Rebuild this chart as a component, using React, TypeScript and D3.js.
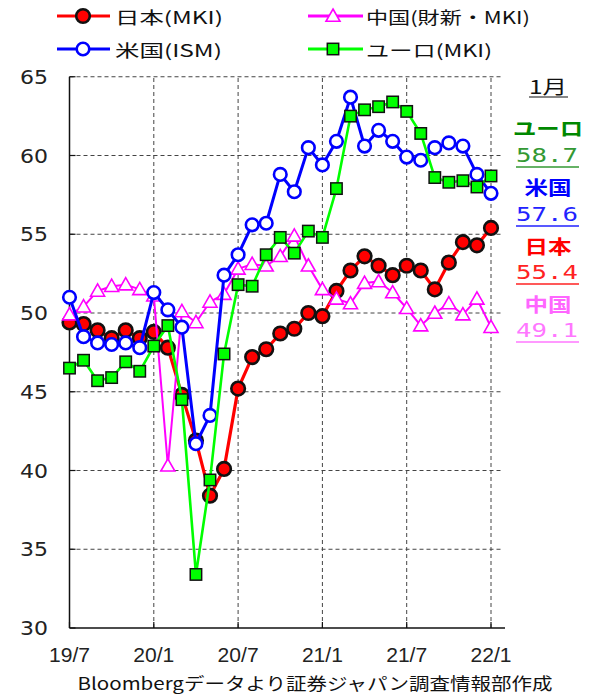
import React from "react";
import * as d3 from "d3";

const months = ["19/7","19/8","19/9","19/10","19/11","19/12","20/1","20/2","20/3","20/4","20/5","20/6","20/7","20/8","20/9","20/10","20/11","20/12","21/1","21/2","21/3","21/4","21/5","21/6","21/7","21/8","21/9","21/10","21/11","21/12","22/1"];
const japan = [49.4,49.3,48.9,48.4,48.9,48.4,48.8,47.8,44.8,41.9,38.4,40.1,45.2,47.2,47.7,48.7,49.0,50.0,49.8,51.4,52.7,53.6,53.0,52.4,53.0,52.7,51.5,53.2,54.5,54.3,55.4];
const china = [49.9,50.4,51.4,51.7,51.8,51.5,51.1,40.3,50.1,49.4,50.7,51.2,52.8,53.1,53.0,53.6,54.9,53.0,51.5,50.9,50.6,51.9,52.0,51.3,50.3,49.2,50.0,50.6,49.9,50.9,49.1];
const usa = [51.0,48.5,48.1,48.0,48.1,47.8,51.3,50.2,49.1,41.7,43.5,52.4,53.7,55.6,55.7,58.8,57.7,60.5,59.4,60.9,63.7,60.6,61.6,60.9,59.9,59.7,60.5,60.8,60.6,58.8,57.6];
const euro = [46.5,47.0,45.7,45.9,46.9,46.3,47.9,49.2,44.5,33.4,39.4,47.4,51.8,51.7,53.7,54.8,53.8,55.2,54.8,57.9,62.5,62.9,63.1,63.4,62.8,61.4,58.6,58.3,58.4,58.0,58.7];
const xTickLabels = ["19/7","20/1","20/7","21/1","21/7","22/1"];
const yTicks = [30,35,40,45,50,55,60,65];
const legendNames = ["日本(MKI)","中国(財新・MKI)","米国(ISM)","ユーロ(MKI)"];
const sideNames = ["ユーロ","米国","日本","中国"];
const sideValues = ["58.7","57.6","55.4","49.1"];
const caption = "Bloombergデータより証券ジャパン調査情報部作成";

const W = 598, H = 695;
const x = d3.scaleLinear().domain([0, 30]).range([69.5, 491]);
const y = d3.scaleLinear().domain([30, 65]).range([628, 76.75]);
const line = d3.line<number>().x((_, i) => x(i)).y(d => y(d));

const CJK = "'Noto Sans CJK JP', 'Noto Sans', sans-serif";

function Marker({ kind, cx, cy }: { kind: string; cx: number; cy: number }) {
  if (kind === "jp") return <circle cx={cx} cy={cy} r={6.8} fill="#ff0000" stroke="#111" strokeWidth={2.6} />;
  if (kind === "us") return <circle cx={cx} cy={cy} r={6.3} fill="#fff" stroke="#0000ff" strokeWidth={2.6} />;
  if (kind === "cn") {
    const s = 7;
    const p = `M${cx},${cy - s}L${cx + s * 1.0},${cy + s * 0.75}L${cx - s * 1.0},${cy + s * 0.75}Z`;
    return <path d={p} fill="#fff" stroke="#ff00ff" strokeWidth={1.6} />;
  }
  return <rect x={cx - 5.7} y={cy - 5.7} width={11.4} height={11.4} fill="#00ff00" stroke="#111" strokeWidth={1.5} />;
}

const series = [
  { key: "jp", data: japan, color: "#ff0000", width: 3.2 },
  { key: "cn", data: china, color: "#ff00ff", width: 2 },
  { key: "us", data: usa, color: "#0000ff", width: 3 },
  { key: "eu", data: euro, color: "#00ff00", width: 2.6 },
];

export default function App() {
  const xTickIdx = xTickLabels.map(l => months.indexOf(l));
  const gridRight = 503;
  const legend = [
    { kind: "jp", color: "#ff0000", lx: 57, rx: 110, mx: 83, ty: 16, tx: 115, tl: 108, name: legendNames[0] },
    { kind: "cn", color: "#ff00ff", lx: 308, rx: 363, mx: 333, ty: 16, tx: 366, tl: 164, name: legendNames[1] },
    { kind: "us", color: "#0000ff", lx: 57, rx: 110, mx: 83, ty: 49, tx: 115, tl: 107, name: legendNames[2] },
    { kind: "eu", color: "#00ff00", lx: 308, rx: 363, mx: 333, ty: 49, tx: 366, tl: 126, name: legendNames[3] },
  ];
  const side = [
    { nc: "#008800", vc: "#339933", ny: 127, vy: 155 },
    { nc: "#0000ff", vc: "#2222ff", ny: 186, vy: 214 },
    { nc: "#ff0000", vc: "#ff2222", ny: 245, vy: 272 },
    { nc: "#ff66ff", vc: "#ff77ff", ny: 303, vy: 330 },
  ];
  return (
    <svg width={W} height={H} style={{ position: "absolute", left: 0, top: 0, background: "#fff" }}>
      <rect width={W} height={H} fill="#fff" />
      {/* grid */}
      {yTicks.filter(t => t > 30).map(t => (
        <line key={"h" + t} x1={x(0)} x2={gridRight} y1={y(t)} y2={y(t)} stroke="#444" strokeWidth={1} strokeDasharray="4,3" />
      ))}
      {xTickIdx.filter(i => i > 0).map(i => (
        <line key={"v" + i} x1={x(i)} x2={x(i)} y1={y(30)} y2={y(65)} stroke="#444" strokeWidth={1} strokeDasharray="4,3" />
      ))}
      {/* axes */}
      <line x1={x(0)} x2={x(0)} y1={y(30)} y2={y(65)} stroke="#111" strokeWidth={1.5} />
      <line x1={x(0)} x2={505} y1={y(30)} y2={y(30)} stroke="#111" strokeWidth={1.5} />
      {yTicks.map(t => (
        <g key={"yt" + t}>
          <line x1={x(0)} x2={x(0) + 6} y1={y(t)} y2={y(t)} stroke="#111" strokeWidth={1.2} />
          <text x={48} y={y(t)} textAnchor="end" dominantBaseline="central" fontFamily="'DejaVu Sans', sans-serif" fontSize={20} fill="#222" textLength={28} lengthAdjust="spacingAndGlyphs">{t}</text>
        </g>
      ))}
      {xTickIdx.map((i, k) => (
        <g key={"xt" + i}>
          <line x1={x(i)} x2={x(i)} y1={y(30)} y2={y(30) - 6} stroke="#111" strokeWidth={1.2} />
          <text x={x(i)} y={654} textAnchor="middle" dominantBaseline="central" fontFamily="'Liberation Sans', sans-serif" fontSize={21} fill="#222" textLength={41} lengthAdjust="spacingAndGlyphs">{xTickLabels[k]}</text>
        </g>
      ))}
      {/* series */}
      {series.map(s => (
        <g key={s.key}>
          <path d={line(s.data) || ""} fill="none" stroke={s.color} strokeWidth={s.width} strokeLinejoin="round" />
          {s.data.map((v, i) => <Marker key={i} kind={s.key} cx={x(i)} cy={y(v)} />)}
        </g>
      ))}
      {/* legend */}
      {legend.map(l => (
        <g key={l.kind}>
          <line x1={l.lx} x2={l.rx} y1={l.ty} y2={l.ty} stroke={l.color} strokeWidth={3} />
          <Marker kind={l.kind} cx={l.mx} cy={l.ty} />
          <text x={l.tx} y={l.ty} dominantBaseline="central" fontFamily={CJK} fontSize={17} fill="#111" textLength={l.tl} lengthAdjust="spacingAndGlyphs">{l.name}</text>
        </g>
      ))}
      {/* side labels */}
      <text x={548} y={85} textAnchor="middle" dominantBaseline="central" fontFamily={CJK} fontSize={19} fill="#111" textLength={38} lengthAdjust="spacingAndGlyphs">1月</text>
      <line x1={529} x2={568} y1={97} y2={97} stroke="#111" strokeWidth={1.2} />
      {side.map((s, k) => (
        <g key={"s" + k}>
          <text x={548} y={s.ny} textAnchor="middle" dominantBaseline="central" fontFamily={CJK} fontWeight="bold" fontSize={19} fill={s.nc}
            textLength={sideNames[k].length === 3 ? 70 : 47} lengthAdjust="spacingAndGlyphs">{sideNames[k]}</text>
          <text x={547} y={s.vy} textAnchor="middle" dominantBaseline="central" fontFamily="'DejaVu Sans Mono', monospace" fontSize={19} fill={s.vc}
            textLength={62} lengthAdjust="spacingAndGlyphs">{sideValues[k]}</text>
          <line x1={516} x2={579} y1={s.vy + 12} y2={s.vy + 12} stroke={s.vc} strokeWidth={1.3} />
        </g>
      ))}
      <text x={315} y={682} textAnchor="middle" dominantBaseline="central" fontFamily={CJK} fontSize={17} fill="#111" textLength={475} lengthAdjust="spacingAndGlyphs">{caption}</text>
    </svg>
  );
}
